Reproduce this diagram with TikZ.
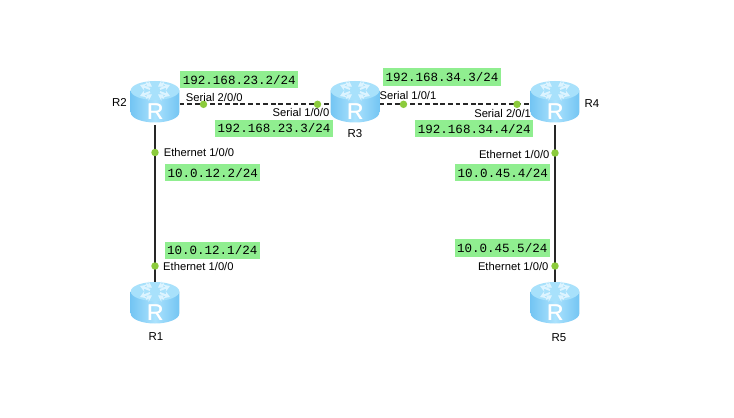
\documentclass[tikz,border=0pt]{standalone}
\usepackage{fontspec}
\setmainfont{Liberation Sans}
\setmonofont{Liberation Mono}
\usetikzlibrary{arrows.meta, positioning, calc}

\definecolor{portgreen}{HTML}{8CCB3C}
\definecolor{ipgreen}{HTML}{90EE90}
\definecolor{routerside}{HTML}{74C5F3}
\definecolor{routermid}{HTML}{ABE2FD}
\definecolor{routertop}{HTML}{A8E1FB}
\definecolor{routerpale}{HTML}{DDF4FF}

\tikzset{
    routerbox/.style={minimum width=36.5pt, minimum height=31.5pt, inner sep=0pt},
    portdot/.style={circle, fill=portgreen, minimum size=5.6pt, inner sep=0pt},
    iplabel/.style={fill=ipgreen, font=\ttfamily\fontsize{9.4pt}{10pt}\selectfont, minimum height=12.8pt, inner sep=1.8pt},
    portlabel/.style={font=\fontsize{8.4pt}{9pt}\selectfont, inner sep=0pt},
    namelabel/.style={font=\fontsize{8.6pt}{9pt}\selectfont, inner sep=0pt},
    ethlink/.style={line width=1.9pt, black!85},
    seriallink/.style={line width=1.9pt, black!85, dash pattern=on 3.6pt off 2.1pt},
    router/.pic={
        % Body of the cylinder
        \shade[left color=routerside, right color=routerside, middle color=routermid]
            (-24.3,-13.5) -- (-24.3,8.5) arc[start angle=180, end angle=0, x radius=24.3, y radius=10]
            -- (24.3,-13.5) -- cycle;
        % Top face
        \fill[routertop] (0,-13.5) ellipse[x radius=24.3, y radius=9.5];
        % Arrows on the top face
        \foreach \dirx/\diry in {-1/-1, 1/-1, -1/1, 1/1} {
            \draw[routerpale, line width=1.5pt, -{Stealth[length=4.5pt, width=5.5pt]}]
                (\dirx*5,\diry*1.5-13.5) -- (\dirx*15,\diry*5.5-13.5);
            \draw[routerpale, line width=1.5pt, {Stealth[length=4.5pt, width=5.5pt]}-]
                (\dirx*3,\diry*4-13.5) -- (\dirx*9,\diry*7.5-13.5);
        }
        % The letter
        \node[white, font=\fontsize{17pt}{18pt}\selectfont, inner sep=0pt] at (0,7.5) {R};
        \node[white, font=\fontsize{17pt}{18pt}\selectfont, inner sep=0pt] at (0.5,7.5) {R};
    }
}

\begin{document}
\begin{tikzpicture}[x=0.75pt, y=-0.75pt]
    \useasboundingbox (0,0) rectangle (734,417);
    \fill[white] (0,0) rectangle (734,417);

    % Routers, icons come later
    \foreach \name/\px/\py in {R2/155/104, R3/355/104, R4/555/104, R1/155/305, R5/555/305} {
        \node[routerbox] (\name) at (\px,\py) {};
    }

    % Links
    \draw[seriallink] (R2) -- (R3);
    \draw[seriallink] (R3) -- (R4);
    \draw[ethlink] (R2) -- (R1);
    \draw[ethlink] (R4) -- (R5);

    % Router icons
    \foreach \name in {R1, R2, R3, R4, R5} {
        \pic at (\name) {router};
    }

    % Ports on the links
    \foreach \port/\px/\py in {p23a/203.5/104.3, p23b/317.5/104.3, p34a/403.5/104.3, p34b/517/104.3,
                               p21a/155/152.5, p21b/155/266, p45a/555/153, p45b/555/266} {
        \node[portdot] (\port) at (\px,\py) {};
    }

    % Router names
    \node[namelabel] (nameR2) at (119.5,102) {R2};
    \node[namelabel] (nameR3) at (355,134) {R3};
    \node[namelabel] (nameR4) at (592,104) {R4};
    \node[namelabel] (nameR1) at (156,337) {R1};
    \node[namelabel] (nameR5) at (559,338) {R5};

    % Interface names
    \node[portlabel] (if23a) at (214.3,97) {Serial 2/0/0};
    \node[portlabel] (if23b) at (301,112.3) {Serial 1/0/0};
    \node[portlabel] (if34a) at (408,95) {Serial 1/0/1};
    \node[portlabel] (if34b) at (502.6,113) {Serial 2/0/1};
    \node[portlabel] (if21a) at (199,152.3) {Ethernet 1/0/0};
    \node[portlabel] (if21b) at (198.4,266) {Ethernet 1/0/0};
    \node[portlabel] (if45a) at (514.2,154) {Ethernet 1/0/0};
    \node[portlabel] (if45b) at (513.2,266) {Ethernet 1/0/0};

    % Addresses
    \node[iplabel] (ip23a) at (239.3,79.6) {192.168.23.2/24};
    \node[iplabel] (ip23b) at (274.1,128.3) {192.168.23.3/24};
    \node[iplabel] (ip34a) at (442,77) {192.168.34.3/24};
    \node[iplabel] (ip34b) at (474.3,128.8) {192.168.34.4/24};
    \node[iplabel] (ip21a) at (212.7,172.8) {10.0.12.2/24};
    \node[iplabel] (ip21b) at (212.2,250.3) {10.0.12.1/24};
    \node[iplabel] (ip45a) at (502.8,172.8) {10.0.45.4/24};
    \node[iplabel] (ip45b) at (502.2,248) {10.0.45.5/24};
\end{tikzpicture}
\end{document}
